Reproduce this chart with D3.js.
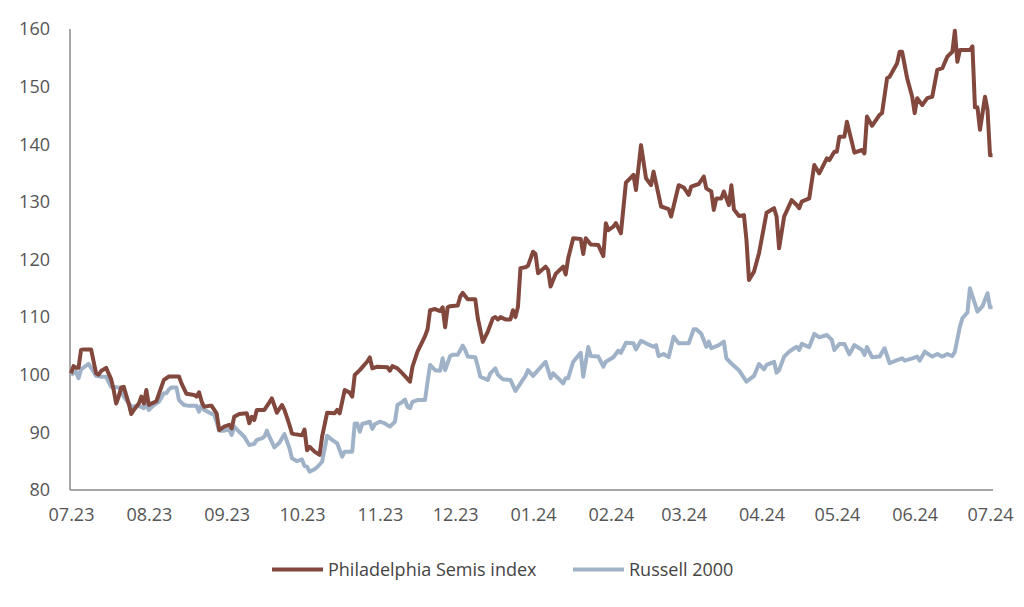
<!DOCTYPE html>
<html><head><meta charset="utf-8">
<script src="https://cdn.jsdelivr.net/npm/d3@7"></script>
<style>
html,body{margin:0;padding:0;background:#fff;}
svg{display:block;font-family:"Open Sans",sans-serif;}
</style></head>
<body><svg id="chart" width="1024" height="607"></svg>
<script>
// Days since 2023-07-01 and index values (rebased to 100)
const semisDays = [0,1,2,3,4,5,8,10,11,12,14,16,17,18,19,20,21,23,24,25,27,28,29,30,31,32,34,36,37,39,43,44,46,49,50,51,52,53,55,56,58,59,61,63,64,65,67,70,71,72,73,74,77,79,80,82,84,85,87,88,89,92,93,94,95,97,99,100,102,105,106,107,109,111,112,113,115,118,119,120,122,126,127,128,130,132,135,136,138,141,142,143,145,147,148,149,150,151,154,155,156,158,161,162,164,166,168,169,170,171,173,175,176,177,178,179,181,182,184,185,186,189,190,191,193,196,197,198,200,203,204,205,207,210,212,213,214,216,217,219,221,224,225,227,229,231,232,235,238,239,242,244,246,247,250,252,253,255,256,257,259,260,262,263,264,266,268,269,270,272,274,275,277,280,281,282,284,287,289,290,291,294,296,298,301,302,304,305,306,308,309,312,315,316,317,319,322,323,325,326,329,330,331,333,335,336,337,339,341,343,345,347,349,351,352,353,354,358,359,360,361,362,364,365,366,367];
const semisValues = [100.25,101.5,101.2,101.2,104.3,104.4,104.4,100.25,100,100.65,101.2,99.2,97.35,95.0,96.2,97.8,97.9,95,93.2,93.9,95,96.2,95,97.35,94.75,95,95.4,97.9,99.1,99.7,99.7,98.5,96.7,96.5,96.2,96.95,95.4,94.45,94.6,94.6,93.3,90.4,91,91.3,90.7,92.7,93.2,93.3,91.6,92.7,92.15,93.9,93.9,95.2,95.9,93.4,94.75,93.9,91.3,89.8,89.7,89.5,90.5,86.9,87.5,86.65,86.1,89.25,93.4,93.3,93.9,93.3,97.35,96.9,96.2,99.95,100.8,102.3,103,101.1,101.4,101.3,100.7,101.5,101.1,100.25,98.8,101.4,104,106.7,107.9,111.2,111.4,111.05,111.7,108.25,111.7,111.9,112,113.55,114.2,113.1,113.1,109.8,105.7,107.5,109.8,110,109.6,110,109.6,109.6,111.2,110,111.8,118.5,118.65,118.9,121.35,120.95,117.6,118.75,118.2,115.3,117.5,118.75,117.4,120.2,123.7,123.55,120.95,123.7,122.6,122.5,120.6,126.3,125.1,125.7,126.3,124.55,133.35,134.7,132.05,139.85,134.1,132.9,135.25,129.2,128.75,127.45,132.9,132.5,131.2,132.65,133.1,134.4,132.35,131.8,128.6,130.6,130.6,131.8,129.45,132.9,128.7,127.55,127.7,123.4,116.45,117.9,121.1,123.4,128.1,128.9,127.45,121.95,127.45,130.3,129.45,128.9,130.05,130.6,136.4,134.95,137.55,137.25,138.7,138.7,141.3,141.3,143.9,138.55,139,138.4,144.8,143.2,145.1,145.4,151.45,151.7,154.05,156.05,156.05,151.45,148.25,145.4,148,146.8,148,148.25,152.9,153.2,155.2,156.05,159.7,154.3,156.35,156.35,157,146.4,146.4,142.5,148.25,145.95,138.1,138.1];

const russellDays = [0,1,2,3,4,7,9,10,12,14,16,19,20,21,24,26,28,29,30,31,33,35,37,38,39,40,42,43,45,47,50,51,52,53,57,58,59,61,63,64,65,67,69,71,73,74,76,77,78,79,81,83,85,87,88,90,92,93,94,95,97,98,100,102,104,106,107,108,109,112,113,114,115,116,119,120,121,123,125,127,129,130,132,133,134,135,136,138,141,142,143,145,147,148,149,151,152,154,156,157,158,161,162,163,166,167,169,170,172,175,177,179,181,182,184,186,189,191,192,194,196,197,198,200,203,204,206,207,210,212,213,216,218,219,221,224,225,227,229,232,233,234,236,238,240,242,246,248,249,251,253,254,255,258,260,261,263,266,269,272,274,276,277,280,281,282,284,286,288,289,290,291,294,296,298,301,303,304,306,308,310,312,314,315,316,317,319,322,324,326,329,331,332,335,337,338,340,343,345,347,349,351,352,354,355,357,358,361,363,365,366,367];
const russellValues = [100,100.25,100.55,99.4,100.95,101.9,100.55,99.8,99.65,99.65,97.9,97.8,97.45,96.2,94.45,94.6,94.45,94.2,95,93.9,94.75,95.3,96.8,96.8,97.45,97.8,97.8,95.6,94.75,94.6,94.6,93.6,94.75,93.9,93,91.85,90.3,90.3,90.5,89.55,91,90.1,89.25,87.8,88,88.7,88.95,89.25,90.3,89.25,87.4,88.2,89.7,87.25,85.5,85.0,85.3,84.15,84.05,83.2,83.6,83.95,84.9,89.4,88.7,88.1,86.95,85.8,86.65,86.65,91.55,91.55,90.1,91.45,91.85,90.6,91.4,91.85,91.55,91,91.85,94.75,95.3,95.7,94.45,94.2,95.3,95.6,95.6,98.8,101.7,100.8,100.7,102.85,100.8,103.25,103.45,103.45,105.05,104.3,103.15,103.05,101.5,99.65,99.1,100.25,101.1,100,99.2,99.1,97.2,98.5,99.8,100.8,99.8,100.8,102.25,99.4,100.25,99.4,98.5,99.4,99.4,102.25,103.8,99.65,104.8,103.25,103.15,101.4,102.25,103.05,104.2,103.8,105.55,105.45,104.4,105.9,105.45,104.85,105.15,103.25,103.6,103.05,106.6,105.45,105.45,107.9,107.9,107.1,104.85,105.75,104.6,105.15,105.75,102.85,101.95,100.8,98.8,99.8,101.85,100.95,101.7,102.25,100.35,100.8,103.15,104,104.6,104.85,104.3,105.35,104.8,107.1,106.5,106.9,106.05,104.3,105.35,105.35,103.55,105.15,104.6,104.3,103.45,104.8,103.05,103.15,104.6,102,102.55,102.85,102.45,102.85,103.15,102.45,104,103.15,103.6,103.15,103.6,103.25,104,108.35,109.8,110.8,115,110.95,111.9,114.15,111.7,111.7];

const yTicks = [80,90,100,110,120,130,140,150,160];
const seriesNames = ["Philadelphia Semis index","Russell 2000"];
const seriesColors = ["#82483d","#9fb2c7"];

const startDate = new Date(Date.UTC(2023,6,1));
const endDate = new Date(Date.UTC(2024,6,2));
const toDate = d => d3.utcDay.offset(startDate, d);

const svg = d3.select("#chart");
const x = d3.scaleUtc().domain([startDate, endDate]).range([71, 71 + 367*2.511]);
const y = d3.scaleLinear().domain([80,160]).range([490, 29]);

// axes lines
svg.append("line").attr("x1",70).attr("x2",70).attr("y1",y(160)).attr("y2",y(80))
  .attr("stroke","#8a8a8a").attr("stroke-width",1.5);
svg.append("line").attr("x1",70).attr("x2",993).attr("y1",y(80)).attr("y2",y(80))
  .attr("stroke","#8a8a8a").attr("stroke-width",1.5);

// y labels
const yAxis = d3.axisLeft(y).tickValues(yTicks).tickSize(0).tickPadding(20);
const gy = svg.append("g").attr("transform","translate(70,0)").call(yAxis);
gy.select(".domain").remove();
gy.selectAll("text").attr("fill","#555").style("font-size","18px").style("font-family","'Open Sans',sans-serif");

// x labels
const xAxis = d3.axisBottom(x).ticks(d3.utcMonth.every(1)).tickFormat(d3.utcFormat("%m.%y")).tickSize(0).tickPadding(18);
const gx = svg.append("g").attr("transform",`translate(0,${y(80)})`).call(xAxis);
gx.select(".domain").remove();
gx.selectAll("text").attr("fill","#555").style("font-size","18px").style("font-family","'Open Sans',sans-serif");

const line = d3.line().x(d => x(d[0])).y(d => y(d[1])).curve(d3.curveLinear);
const russell = russellDays.map((d,i) => [toDate(d), russellValues[i]]);
const semis = semisDays.map((d,i) => [toDate(d), semisValues[i]]);

svg.append("path").datum(russell).attr("d",line).attr("fill","none")
  .attr("stroke",seriesColors[1]).attr("stroke-width",4).attr("stroke-linejoin","round");
svg.append("path").datum(semis).attr("d",line).attr("fill","none")
  .attr("stroke",seriesColors[0]).attr("stroke-width",4).attr("stroke-linejoin","round");

// legend
const legendX = [272, 573];
const lg = svg.append("g");
seriesNames.forEach((n,i) => {
  lg.append("line").attr("x1",legendX[i]).attr("x2",legendX[i]+51).attr("y1",569.5).attr("y2",569.5)
    .attr("stroke",seriesColors[i]).attr("stroke-width",4);
  lg.append("text").attr("x",legendX[i]+56).attr("y",569.5).attr("dy","0.35em")
    .attr("fill","#444").style("font-size","18px").text(n);
});
</script></body></html>
